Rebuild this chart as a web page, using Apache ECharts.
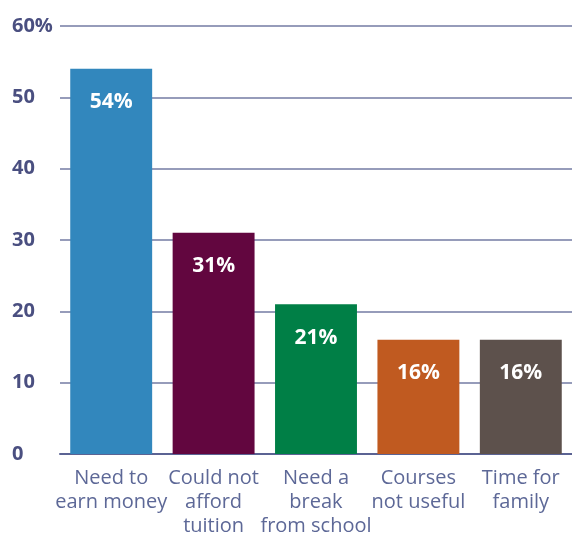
<!DOCTYPE html>
<html>
<head>
<meta charset="utf-8">
<script src="https://cdn.jsdelivr.net/npm/echarts@6/dist/echarts.min.js"></script>
<style>
  html, body { margin: 0; padding: 0; background: #ffffff; }
  #chart { width: 572px; height: 538px; }
</style>
</head>
<body>
<div id="chart"></div>
<script>
// Reasons for leaving school (share of respondents, %)
const categories = ['Need to\nearn money', 'Could not\nafford\ntuition', 'Need a\nbreak\nfrom school', 'Courses\nnot useful', 'Time for\nfamily'];
const values = [54, 31, 21, 16, 16];
const barColors = ['#3287bd', '#62063f', '#007f46', '#c05a20', '#5d514c'];
const yTicks = [0, 10, 20, 30, 40, 50, 60];

const chart = echarts.init(document.getElementById('chart'));
chart.setOption({
  animation: false,
  grid: { left: 60, right: 0, top: 26, bottom: 79, containLabel: false },
  xAxis: {
    type: 'category',
    data: categories,
    axisLine: { show: true, lineStyle: { color: '#5b6393', width: 2 } },
    axisTick: { show: false },
    axisLabel: {
      color: '#5d6897',
      fontFamily: 'Open Sans',
      fontSize: 20,
      lineHeight: 24,
      margin: 12,
      interval: 0
    }
  },
  yAxis: {
    type: 'value',
    min: yTicks[0],
    max: yTicks[yTicks.length - 1],
    interval: 10,
    axisLine: { show: false },
    axisTick: { show: false },
    splitLine: { lineStyle: { color: '#737ba3', width: 1.5 } },
    axisLabel: {
      color: '#4a4f80',
      fontFamily: 'Open Sans',
      fontWeight: 'bold',
      fontSize: 20,
      align: 'left',
      margin: 48,
      formatter: function (v) { return v === yTicks[yTicks.length - 1] ? v + '%' : String(v); }
    }
  },
  series: [{
    type: 'bar',
    data: values.map((v, i) => ({ value: v, itemStyle: { color: barColors[i] } })),
    barCategoryGap: '20%',
    label: {
      show: true,
      position: 'insideTop',
      distance: 23,
      color: '#ffffff',
      fontFamily: 'Open Sans',
      fontWeight: 'bold',
      fontSize: 21,
      formatter: '{c}%'
    }
  }]
});
</script>
</body>
</html>
